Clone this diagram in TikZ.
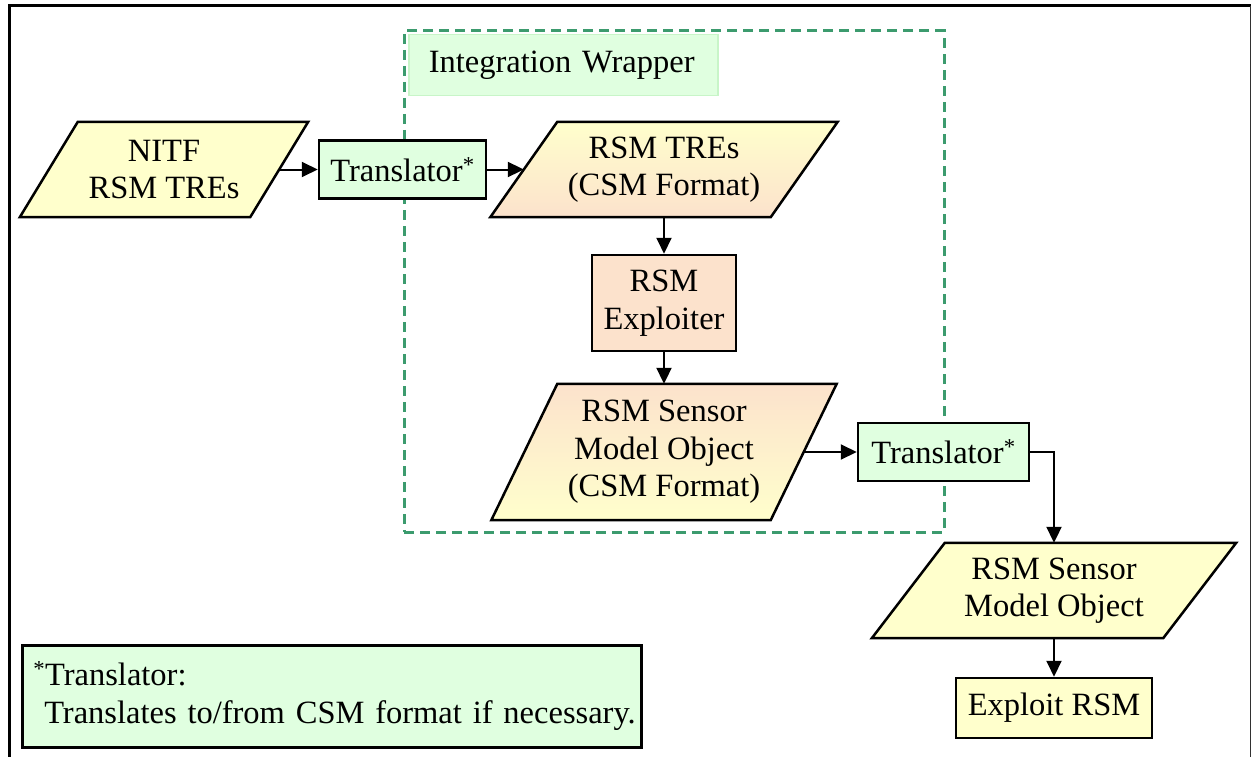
\documentclass[tikz,border=0pt]{standalone}
\usepackage{fontspec}
\setmainfont{Liberation Serif}
\usetikzlibrary{arrows.meta,backgrounds}

\definecolor{paleyellow}{RGB}{255,255,204}
\definecolor{peach}{RGB}{252,226,204}
\definecolor{mint}{RGB}{224,255,224}
\definecolor{mintedge}{RGB}{200,245,200}
\definecolor{wrapgreen}{RGB}{60,155,110}
\definecolor{framegray}{RGB}{50,50,50}

% outline of a data (parallelogram) node: #1 node name, #2 horizontal skew, #3 fill options
\newcommand\dataoutline[3]{%
  \draw[line width=2.5pt, #3]
    ([xshift=-#2/2]#1.south west) -- ([xshift=#2/2]#1.north west) --
    ([xshift=#2/2]#1.north east) -- ([xshift=-#2/2]#1.south east) -- cycle;}

\begin{document}
\begin{tikzpicture}[x=1pt, y=-1pt,
  font=\fontsize{32.5}{37.5}\selectfont,
  every node/.style={inner sep=0pt, align=center},
  procbox/.style={draw=black, line width=2.5pt, fill=#1},
  datanode/.style={minimum width=#1},
  conn/.style={line width=2pt, -{Triangle[length=16pt,width=15pt]}}]

\useasboundingbox (0,0) rectangle (1252,757);

% page frame, open at the bottom
\draw[line width=3pt] (9,757) -- (9,6) -- (1250.5,6);
\draw[line width=1.5pt, framegray] (1250.5,6) -- (1250.5,757);

% integration wrapper
\node[draw=wrapgreen, line width=3pt, dash pattern=on 10pt off 6pt,
      minimum width=540, minimum height=501] (wrapper) at (674,281.5) {};
\node[draw=mintedge, line width=1.5pt, fill=mint, anchor=north west,
      minimum height=61, text width=289pt, inner xsep=10pt, align=left]
      (wraplabel) at (408,34) {\hspace*{10pt}\mbox{Integration Wrapper}};

% data nodes (text; outlines drawn on the background layer)
\node[datanode=230, minimum height=95] (nitf) at (164,169.5) {NITF\\RSM TREs};
\node[datanode=280, minimum height=95] (tres) at (664,169.5) {RSM TREs\\(CSM Format)};
\node[datanode=279, minimum height=136] (sens1) at (664,452) {RSM Sensor\\Model Object\\(CSM Format)};
\node[datanode=291, minimum height=95] (sens2) at (1054,590.5) {RSM Sensor\\Model Object};

% process boxes
\node[procbox=mint, minimum width=167, minimum height=58] (t1) at (402.5,169.5) {Translator\textsuperscript{*}};
\node[procbox=peach, minimum width=144, minimum height=96] (expl) at (664,303) {RSM\\Exploiter};
\node[procbox=mint, minimum width=171, minimum height=58] (t2) at (943.5,452) {Translator\textsuperscript{*}};
\node[procbox=paleyellow, minimum width=196, minimum height=60] (exploit) at (1054,708) {Exploit RSM};

% footnote
\node[procbox=mint, anchor=north west, minimum height=102, text width=603pt,
      inner xsep=8pt, align=left] (note) at (21,644)
      {\mbox{\hspace*{3pt}\textsuperscript{*}Translator:}\\
       \mbox{\hspace*{14pt}Translates to/from CSM format if necessary.}};

\begin{scope}[on background layer]
  \dataoutline{nitf}{58}{fill=paleyellow}
  \dataoutline{tres}{67}{top color=paleyellow, bottom color=peach}
  \dataoutline{sens1}{66}{top color=peach, bottom color=paleyellow}
  \dataoutline{sens2}{73}{fill=paleyellow}
\end{scope}

% connectors
\draw[conn] (nitf) -- (t1);
\draw[conn] (t1) -- (tres);
\draw[conn] (tres) -- (expl);
\draw[conn] (expl) -- (sens1);
\draw[conn] (sens1) -- (t2);
\draw[conn] (t2) -| (sens2);
\draw[conn] (sens2) -- (exploit);
\end{tikzpicture}
\end{document}
